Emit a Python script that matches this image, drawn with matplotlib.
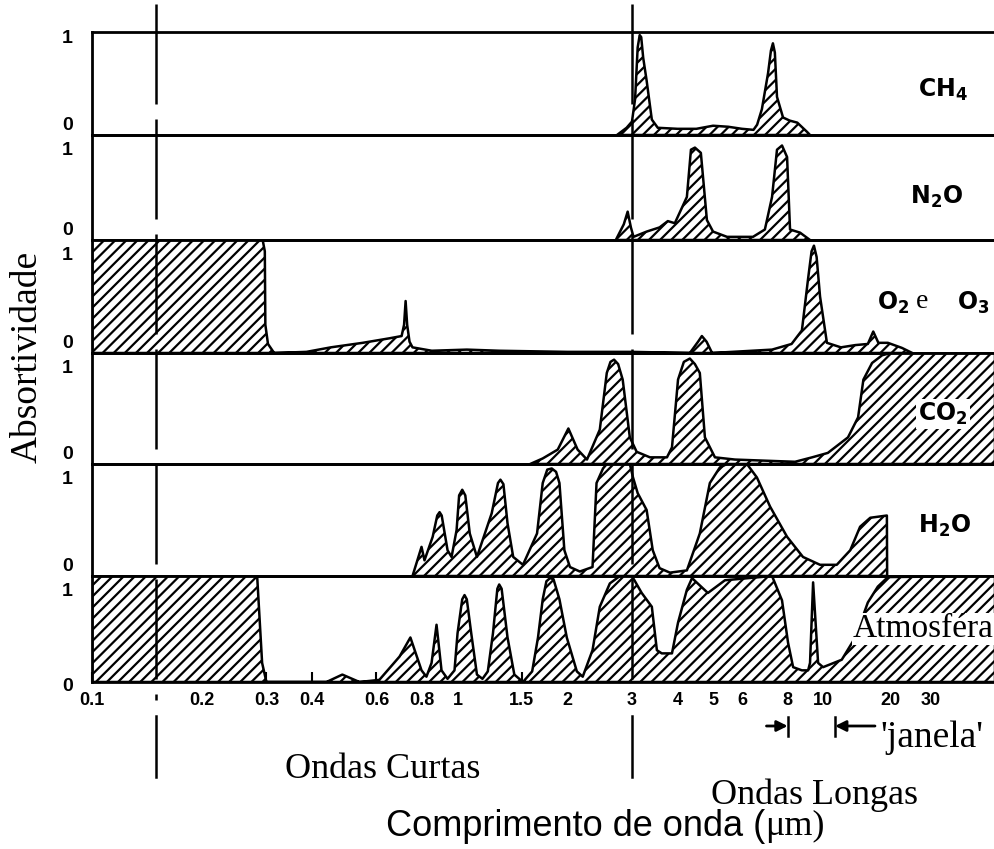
import numpy as np
import matplotlib
matplotlib.use("Agg")
import matplotlib.pyplot as plt
from matplotlib.lines import Line2D
from matplotlib.transforms import blended_transform_factory

plt.rcParams["hatch.linewidth"] = 1.6

# absorption spectra, wavelength in micrometres, absorptivity 0..1
ch4_wl = [2.73, 2.9, 3.0, 3.06, 3.11, 3.15, 3.18, 3.22, 3.29, 3.40,
          3.53, 4.0, 4.5, 5.0, 5.5, 6.0, 6.45, 6.6, 6.8, 7.07,
          7.2, 7.29, 7.38, 7.48, 7.77, 8.1, 8.5, 9.04, 9.21]
ch4_ab = [0.0, 0.07, 0.13, 0.35, 0.85, 0.97, 0.95, 0.75, 0.53, 0.15,
          0.07, 0.06, 0.06, 0.09, 0.08, 0.06, 0.05, 0.10, 0.25, 0.60,
          0.82, 0.89, 0.80, 0.37, 0.17, 0.14, 0.12, 0.03, 0.0]

n2o_wl = [2.71, 2.85, 2.92, 2.98, 3.03, 3.29, 3.57, 3.76, 3.93, 4.24,
          4.35, 4.46, 4.63, 4.81, 5.0, 5.46, 6.43, 6.93, 7.25, 7.48,
          7.72, 7.97, 8.12, 8.65, 9.21]
n2o_ab = [0.0, 0.15, 0.27, 0.12, 0.03, 0.08, 0.12, 0.18, 0.16, 0.41,
          0.86, 0.88, 0.83, 0.19, 0.08, 0.03, 0.03, 0.10, 0.41, 0.86,
          0.90, 0.79, 0.10, 0.07, 0.0]

o3_wl = [0.1, 0.293, 0.297, 0.298, 0.303, 0.315, 0.386, 0.45, 0.55, 0.651,
         0.703, 0.714, 0.721, 0.728, 0.739, 0.753, 0.85, 1.06, 1.3, 2.0,
         3.0, 4.32, 4.55, 4.66, 4.80, 4.97, 7.25, 8.2, 8.75, 9.10,
         9.30, 9.44, 9.60, 9.81, 10.4, 12.0, 13.9, 15.8, 16.7, 17.6,
         19.4, 22.4, 24.9]
o3_ab = [1.0, 1.0, 0.9, 0.25, 0.08, 0.0, 0.01, 0.05, 0.09, 0.13,
         0.15, 0.25, 0.46, 0.25, 0.10, 0.05, 0.02, 0.03, 0.02, 0.01,
         0.01, 0.0, 0.10, 0.15, 0.10, 0.0, 0.03, 0.08, 0.20, 0.66,
         0.90, 0.95, 0.85, 0.50, 0.09, 0.05, 0.07, 0.08, 0.19, 0.09,
         0.09, 0.045, 0.0]

co2_wl = [1.58, 1.71, 1.88, 2.01, 2.13, 2.26, 2.45, 2.56, 2.62, 2.68,
          2.75, 2.83, 2.96, 3.09, 3.36, 3.74, 3.86, 4.01, 4.16, 4.32,
          4.46, 4.60, 4.75, 5.06, 5.74, 8.38, 9.33, 10.5, 12.9, 14.3,
          15.1, 16.5, 18.3, 20.0, 58.0]
co2_ab = [0.0, 0.05, 0.13, 0.32, 0.13, 0.04, 0.31, 0.82, 0.92, 0.94,
          0.90, 0.76, 0.24, 0.11, 0.06, 0.06, 0.15, 0.76, 0.92, 0.95,
          0.90, 0.82, 0.24, 0.06, 0.04, 0.02, 0.06, 0.10, 0.24, 0.42,
          0.76, 0.91, 0.98, 1.0, 1.0]

h2o_wl = [0.753, 0.797, 0.812, 0.855, 0.88, 0.893, 0.905, 0.939, 0.963, 0.994,
          1.01, 1.03, 1.05, 1.08, 1.13, 1.24, 1.29, 1.31, 1.335, 1.37,
          1.42, 1.51, 1.65, 1.71, 1.76, 1.81, 1.86, 1.90, 1.96, 2.03,
          2.16, 2.34, 2.40, 2.50, 2.56, 2.96, 3.02, 3.11, 3.29, 3.42,
          3.57, 3.81, 4.24, 4.60, 4.90, 5.22, 5.46, 6.19, 6.59, 7.16,
          7.97, 8.81, 9.81, 11.5, 13.2, 14.6, 16.2, 19.2, 19.25]
h2o_ab = [0.0, 0.26, 0.14, 0.35, 0.54, 0.57, 0.54, 0.23, 0.17, 0.41,
          0.72, 0.77, 0.72, 0.38, 0.17, 0.56, 0.83, 0.86, 0.82, 0.47,
          0.17, 0.10, 0.38, 0.83, 0.95, 0.96, 0.93, 0.83, 0.23, 0.08,
          0.04, 0.08, 0.83, 0.96, 1.0, 1.0, 0.88, 0.74, 0.59, 0.23,
          0.07, 0.03, 0.05, 0.38, 0.83, 0.97, 1.0, 1.0, 0.88, 0.62,
          0.35, 0.17, 0.10, 0.10, 0.23, 0.44, 0.52, 0.54, 0.0]

atm_wl = [0.1, 0.283, 0.292, 0.300, 0.438, 0.484, 0.539, 0.611, 0.694, 0.743,
          0.797, 0.822, 0.849, 0.876, 0.904, 0.939, 0.981, 1.0, 1.03, 1.045,
          1.06, 1.09, 1.13, 1.17, 1.21, 1.25, 1.285, 1.30, 1.32, 1.37,
          1.43, 1.51, 1.60, 1.66, 1.71, 1.75, 1.79, 1.83, 1.90, 1.99,
          2.12, 2.20, 2.34, 2.45, 2.61, 2.78, 3.0, 3.19, 3.40, 3.51,
          3.62, 3.86, 4.01, 4.24, 4.38, 4.84, 5.39, 7.25, 7.72, 8.02,
          8.28, 8.75, 9.10, 9.21, 9.39, 9.69, 10.0, 12.1, 13.9, 15.8,
          17.5, 19.4, 58.0]
atm_ab = [1.0, 1.0, 0.18, 0.0, 0.0, 0.07, 0.0, 0.02, 0.24, 0.42,
          0.11, 0.05, 0.18, 0.54, 0.11, 0.03, 0.11, 0.46, 0.78, 0.82,
          0.78, 0.46, 0.07, 0.03, 0.10, 0.46, 0.88, 0.92, 0.88, 0.42,
          0.07, 0.0, 0.10, 0.42, 0.78, 0.95, 0.98, 0.97, 0.78, 0.42,
          0.10, 0.05, 0.30, 0.71, 0.93, 1.0, 1.0, 0.84, 0.71, 0.30,
          0.27, 0.27, 0.56, 0.87, 0.98, 0.84, 0.96, 1.0, 0.77, 0.37,
          0.14, 0.11, 0.11, 0.18, 0.94, 0.18, 0.14, 0.21, 0.42, 0.75,
          0.90, 0.99, 1.0]

tick_values = [0.1, 0.2, 0.3, 0.4, 0.6, 0.8, 1, 1.5, 2, 3, 4, 5, 6, 8, 10, 20, 30]
tick_labels = ["0.1", "0.2", "0.3", "0.4", "0.6", "0.8", "1", "1.5", "2",
               "3", "4", "5", "6", "8", "10", "20", "30"]

band_edges = [0.15, 3.0]      # short / long wave divisions
window_edges = [8.0, 11.3]    # atmospheric window


# the wavelength axis is logarithmic, compressed beyond 10 um
K = 0.616


def fwd(x):
    x = np.clip(np.asarray(x, float), 1e-6, None)
    lx = np.log10(x)
    return np.where(lx <= 1, lx, 1 + K * (lx - 1))


def inv(y):
    y = np.asarray(y, float)
    return np.where(y <= 1, 10.0 ** y, 10.0 ** (1 + (y - 1) / K))


W, H = 995, 849
fig = plt.figure(figsize=(W / 100, H / 100), dpi=100)


def fx(px):
    return px / W


def fy(py):
    return 1 - py / H


gs = fig.add_gridspec(6, 1, left=fx(92), right=1.0, top=fy(32), bottom=fy(682),
                      hspace=0, height_ratios=[103, 105, 113, 111, 112, 106])

panels = [(ch4_wl, ch4_ab), (n2o_wl, n2o_ab), (o3_wl, o3_ab),
          (co2_wl, co2_ab), (h2o_wl, h2o_ab), (atm_wl, atm_ab)]
axes = []
for i, (wl, ab) in enumerate(panels):
    ax = fig.add_subplot(gs[i])
    ax.set_xscale("function", functions=(fwd, inv))
    ax.fill_between(wl, ab, 0, facecolor="white", edgecolor="black",
                    hatch="///", linewidth=1.8, zorder=2)
    ax.set_xlim(0.1, 58)
    ax.set_ylim(0, 1)
    ax.set_yticks([])
    ax.spines["right"].set_visible(False)
    for s in ("top", "bottom", "left"):
        ax.spines[s].set_linewidth(2.0)
        ax.spines[s].set_zorder(3)
    ax.patch.set_alpha(0)

    # 0 / 1 marks on the left
    y1 = -5 if i == 0 else -11
    y0 = -3 if i == 5 else 7
    ax.annotate("1", xy=(0, 1), xycoords="axes fraction", xytext=(-14, y1),
                textcoords="offset points", ha="right", va="center",
                fontsize=14, fontweight="bold", family="Liberation Sans")
    ax.annotate("0", xy=(0, 0), xycoords="axes fraction", xytext=(-14, y0),
                textcoords="offset points", ha="right", va="center",
                fontsize=14, fontweight="bold", family="Liberation Sans")
    axes.append(ax)

for ax in axes[:-1]:
    ax.set_xticks([])
    ax.minorticks_off()

axb = axes[-1]
axb.set_xticks(tick_values)
axb.set_xticklabels(tick_labels, fontsize=13, fontweight="bold", family="Liberation Sans")
axb.minorticks_off()
axb.tick_params(axis="x", direction="in", length=7, width=1.5, pad=7)

# gas labels
lab = dict(fontsize=17, fontweight="bold", va="center", ha="left")
fig.text(fx(918), fy(90), r"$\mathbf{CH_4}$", **lab)
fig.text(fx(910), fy(197), r"$\mathbf{N_2O}$", **lab)
fig.text(fx(877), fy(303), r"$\mathbf{O_2}$", **lab)
fig.text(fx(916), fy(301), "e", fontsize=20, family="Liberation Serif", va="center")
fig.text(fx(957), fy(303), r"$\mathbf{O_3}$", **lab)
fig.text(fx(918), fy(414), r"$\mathbf{CO_2}$",
         bbox=dict(facecolor="white", edgecolor="none", pad=1.5), **lab)
fig.text(fx(918), fy(526), r"$\mathbf{H_2O}$", **lab)
fig.text(fx(853), fy(629), "Atmosféra", fontsize=24, family="Liberation Serif",
         va="center", ha="left",
         bbox=dict(facecolor="white", edgecolor="none", pad=0.5))

fig.text(fx(27), fy(357), "Absortividade", rotation=90, fontsize=27,
         family="Liberation Serif", ha="center", va="center")

# division lines between short and long waves
trans = blended_transform_factory(axb.transData, fig.transFigure)
for x, y_end in zip(band_edges, [700, 690]):
    fig.add_artist(Line2D([x, x], [fy(4), fy(y_end)], transform=trans, color="black",
                          lw=1.8, linestyle=(0, (40, 6)), zorder=4))
    fig.add_artist(Line2D([x, x], [fy(716), fy(777)], transform=trans,
                          color="black", lw=1.8, zorder=4))

fig.text(fx(383), fy(770), "Ondas Curtas", fontsize=26, family="Liberation Serif",
         ha="center", va="center")
fig.text(fx(815), fy(795), "Ondas Longas", fontsize=26, family="Liberation Serif",
         ha="center", va="center")

# atmospheric window markers
ya = fy(726)
for x in window_edges:
    fig.add_artist(Line2D([x, x], [fy(717), fy(736)], transform=trans,
                          color="black", lw=1.8, zorder=4))
arrow = dict(arrowstyle="-|>", lw=2, color="black", mutation_scale=16,
             shrinkA=0, shrinkB=0)
axb.annotate("", xy=(window_edges[0], ya), xytext=(7.0, ya),
             xycoords=trans, textcoords=trans, arrowprops=arrow)
axb.annotate("", xy=(window_edges[1], ya), xytext=(17.0, ya),
             xycoords=trans, textcoords=trans, arrowprops=arrow)
fig.text(fx(880), fy(738), "'janela'", fontsize=27, family="Liberation Serif",
         ha="left", va="center")

fig.text(fx(765), fy(826), "Comprimento de onda (", fontsize=26,
         family="Liberation Sans", ha="right", va="center")
fig.text(fx(765), fy(826), "μm)", fontsize=26, family="Liberation Serif",
         ha="left", va="center")

fig.savefig("out.png", dpi=100, facecolor="white")
